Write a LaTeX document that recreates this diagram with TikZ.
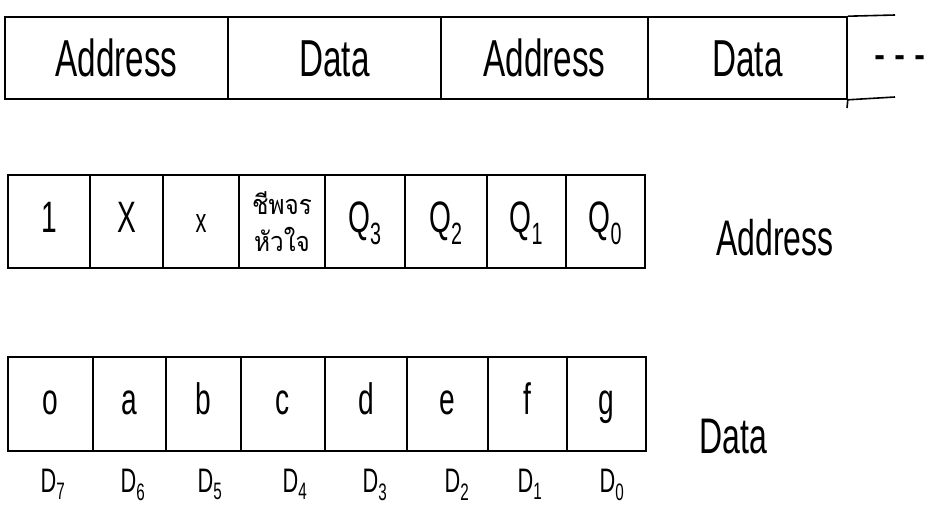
\documentclass[tikz,border=0pt]{standalone}
\usepackage{fontspec}
\setmainfont{Liberation Sans}[FakeStretch=0.64]
\newfontfamily\thaifont[Script=Thai,FakeStretch=0.9]{Loma}
\begin{document}
\begin{tikzpicture}[x=1pt,y=-1pt,line width=1.6pt,
  cell/.style={draw, inner sep=0pt, text height=30pt, text depth=9pt, font=\fontsize{44}{50}\selectfont},
  toplbl/.style={inner sep=0pt, font=\fontsize{52}{58}\selectfont},
  sidelbl/.style={inner sep=0pt, font=\fontsize{50}{56}\selectfont},
  bitlbl/.style={inner sep=0pt, text height=23pt, text depth=7pt, font=\fontsize{34}{38}\selectfont},
  thailbl/.style={align=center, inner sep=0pt, font=\thaifont\fontsize{27}{37}\selectfont}]
\useasboundingbox (0,0) rectangle (927,509);
% top frame
\foreach \l/\r/\t [count=\i] in {5/228/Address, 228/441/Data, 441/648/Address, 648/847/Data}{
  \pgfmathsetmacro\w{\r-\l}
  \node[cell, toplbl, text height=38pt, text depth=2pt, minimum width=\w pt, minimum height=82pt] (a\i) at ({(\l+\r)/2},58) {\t};
}
\coordinate (tr) at (895,15);
\coordinate (br) at (895,97);
\coordinate (dv) at (847,108);
\draw (a4.north east) -- (tr);
\draw (a4.south east) -- (br);
\draw (a4.south east) -- (dv);
\node[toplbl] (dots) at (900,64) {- - -};
% address byte
\foreach \l/\r/\t [count=\i] in {8/90/1, 90/163/X, 163/239/{\fontsize{34}{40}\selectfont x}, 239/325/{}, 325/405/Q\textsubscript{3}, 405/487/Q\textsubscript{2}, 487/566/Q\textsubscript{1}, 566/645/Q\textsubscript{0}}{
  \pgfmathsetmacro\w{\r-\l}
  \node[cell, minimum width=\w pt, minimum height=93pt] (m\i) at ({(\l+\r)/2},221.5) {\t};
}
\node[thailbl] (thai) at (m4) {ชีพจร\\หัวใจ};
\node[sidelbl] (addr) at (775,238) {Address};
% data byte
\foreach \l/\r/\t [count=\i] in {8/93/o, 93/166/a, 166/241/b, 241/325/c, 325/407/d, 407/488/e, 488/567/f, 567/646/g}{
  \pgfmathsetmacro\w{\r-\l}
  \node[cell, minimum width=\w pt, minimum height=94pt] (b\i) at ({(\l+\r)/2},404) {\t};
}
\node[sidelbl] (data) at (733,437) {Data};
\foreach \x/\n [count=\i] in {53/7, 133/6, 210/5, 295/4, 375/3, 457/2, 530/1, 612/0}{
  \node[bitlbl] (d\n) at (\x,484) {D\textsubscript{\n}};
}
\end{tikzpicture}
\end{document}
